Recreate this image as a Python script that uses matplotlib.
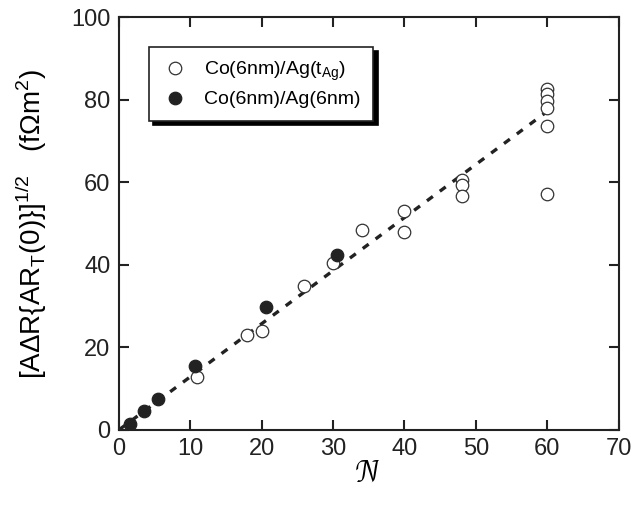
import matplotlib.pyplot as plt

plt.rcParams['font.family'] = ['Liberation Sans', 'DejaVu Sans']
plt.rcParams['mathtext.fontset'] = 'custom'
plt.rcParams['mathtext.rm'] = 'Liberation Sans'

# Co(6nm)/Ag(t_Ag) - open circles
n_open = [11, 18, 20, 26, 30, 34, 40, 40, 48, 48, 48, 60, 60, 60, 60, 60, 60]
r_open = [12.9, 22.9, 24.0, 34.9, 40.4, 48.4, 53.0, 47.9, 60.5, 59.4, 56.8,
          82.7, 81.5, 79.7, 77.9, 73.7, 57.2]

# Co(6nm)/Ag(6nm) - filled circles
n_fill = [1.5, 3.5, 5.5, 10.6, 20.6, 30.6]
r_fill = [1.5, 4.7, 7.4, 15.6, 29.9, 42.4]

# dashed fit line
n_fit = [0, 60]
r_fit = [0, 77.2]

fig = plt.figure(figsize=(6.32, 5.07), dpi=100)
ax = fig.add_axes([0.188, 0.152, 0.791, 0.814])

ax.plot(n_fit, r_fit, color='#222222', lw=2.4, ls=(0, (2.2, 2.6)), zorder=1)
ax.plot(n_open, r_open, 'o', ms=9, mfc='white', mec='#333333', mew=0.9,
        label=r'Co(6nm)/Ag(t$_{\mathrm{Ag}}$)', zorder=2)
ax.plot(n_fill, r_fill, 'o', ms=9, mfc='#222222', mec='#222222', mew=0.9,
        label='Co(6nm)/Ag(6nm)', zorder=3)

ax.set_xlim(0, 70)
ax.set_ylim(0, 100)
ax.set_xticks(range(0, 71, 10))
ax.set_yticks(range(0, 101, 20))
ax.tick_params(direction='in', length=7, width=1.5, top=True, right=True,
               labelsize=17, pad=6, colors='#222222')
for s in ax.spines.values():
    s.set_linewidth(1.5)
    s.set_color('#222222')

ax.set_xlabel(r'$\mathcal{N}$', fontsize=20, labelpad=1)
ax.set_ylabel(r'[A$\Delta$R{AR$_{\mathrm{T}}$(0)}]$^{\mathrm{1/2}}$   (f$\Omega$m$^{\mathrm{2}}$)',
              fontsize=20, labelpad=16)

leg = ax.legend(loc='upper left', bbox_to_anchor=(0.06, 0.928), fontsize=14,
                frameon=True, fancybox=False, edgecolor='#222222',
                shadow={'color': 'black', 'alpha': 1, 'ox': 3, 'oy': -3},
                handletextpad=0.8, borderpad=0.65, labelspacing=0.4,
                handlelength=1.4, borderaxespad=0)
leg.get_frame().set_linewidth(1.2)

fig.savefig('out.png', dpi=100)
